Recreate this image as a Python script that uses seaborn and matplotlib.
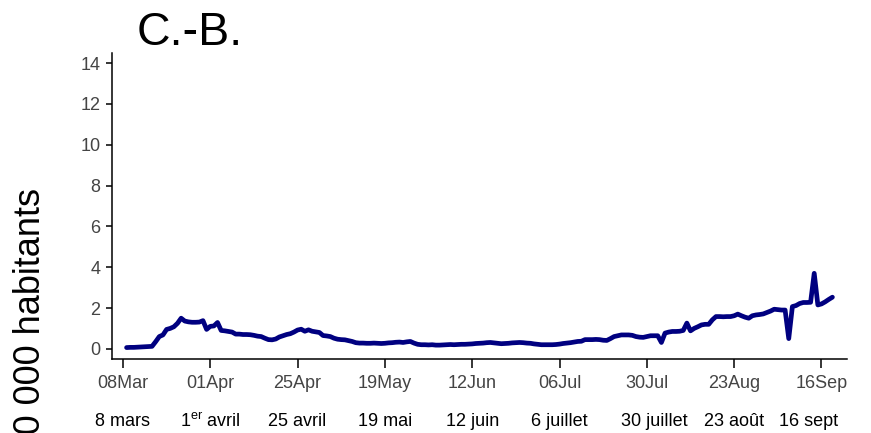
import pandas as pd
import seaborn as sns
import matplotlib.pyplot as plt
import matplotlib.dates as mdates
from matplotlib.transforms import blended_transform_factory, ScaledTranslation

# Data: daily rate per 100 000, from 9 March
start_date = "2020-03-09"
rate = [
    0.06, 0.07, 0.07, 0.08, 0.09, 0.10, 0.11, 0.12, 0.35, 0.60,
    0.68, 0.95, 1.00, 1.08, 1.25, 1.50, 1.36, 1.32, 1.30, 1.30,
    1.31, 1.38, 0.95, 1.10, 1.12, 1.29, 0.90, 0.88, 0.85, 0.82,
    0.72, 0.72, 0.70, 0.70, 0.69, 0.66, 0.62, 0.60, 0.52, 0.45,
    0.44, 0.48, 0.58, 0.64, 0.70, 0.74, 0.82, 0.92, 0.96, 0.86,
    0.93, 0.86, 0.83, 0.80, 0.65, 0.63, 0.60, 0.52, 0.47, 0.45,
    0.44, 0.40, 0.36, 0.30, 0.28, 0.28, 0.27, 0.27, 0.28, 0.27,
    0.26, 0.27, 0.29, 0.30, 0.32, 0.33, 0.31, 0.34, 0.36, 0.28,
    0.22, 0.20, 0.20, 0.19, 0.20, 0.18, 0.18, 0.19, 0.20, 0.21,
    0.20, 0.21, 0.22, 0.22, 0.23, 0.24, 0.26, 0.27, 0.28, 0.30,
    0.31, 0.29, 0.27, 0.25, 0.26, 0.27, 0.29, 0.30, 0.31, 0.30,
    0.28, 0.27, 0.24, 0.22, 0.20, 0.20, 0.20, 0.20, 0.21, 0.23,
    0.26, 0.28, 0.30, 0.33, 0.36, 0.37, 0.45, 0.45, 0.45, 0.46,
    0.45, 0.42, 0.41, 0.50, 0.60, 0.64, 0.68, 0.68, 0.68, 0.66,
    0.60, 0.57, 0.56, 0.60, 0.64, 0.64, 0.64, 0.31, 0.77, 0.82,
    0.85, 0.85, 0.86, 0.90, 1.26, 0.88, 1.00, 1.08, 1.17, 1.20,
    1.20, 1.42, 1.58, 1.58, 1.57, 1.58, 1.58, 1.62, 1.70, 1.62,
    1.55, 1.50, 1.62, 1.66, 1.68, 1.71, 1.78, 1.85, 1.94, 1.92,
    1.90, 1.90, 0.50, 2.07, 2.12, 2.22, 2.27, 2.27, 2.28, 3.70,
    2.15, 2.20, 2.30, 2.42, 2.53,
]

tick_dates = ["2020-03-08", "2020-04-01", "2020-04-25", "2020-05-19", "2020-06-12",
              "2020-07-06", "2020-07-30", "2020-08-23", "2020-09-16"]
fr_labels = ["8 mars", "1$^{\\mathrm{er}}$ avril", "25 avril", "19 mai", "12 juin",
             "6 juillet", "30 juillet", "23 août", "16 sept"]

df = pd.DataFrame({"date": pd.date_range(start_date, periods=len(rate), freq="D"),
                   "rate": rate})

sns.set_style("ticks")
plt.rcParams["font.family"] = ["Liberation Sans", "DejaVu Sans"]
plt.rcParams["mathtext.fontset"] = "custom"
plt.rcParams["mathtext.rm"] = "Liberation Sans"

fig = plt.figure(figsize=(8.71, 4.33), dpi=100)
ax = fig.add_axes([0.1286, 0.1709, 0.8438, 0.7067])

sns.lineplot(data=df, x="date", y="rate", color="navy", linewidth=3.4, ax=ax)

ax.set_ylim(-0.5, 14.5)
ax.set_yticks(range(0, 15, 2))
ax.set_xlim(pd.Timestamp("2020-03-05"), pd.Timestamp("2020-09-23"))
ticks = pd.to_datetime(tick_dates)
ax.set_xticks(ticks)
ax.xaxis.set_major_formatter(mdates.DateFormatter("%d%b"))
ax.set_xlabel("")
ax.set_ylabel("")

sns.despine(ax=ax)
for s in ["left", "bottom"]:
    ax.spines[s].set_linewidth(1.1)
    ax.spines[s].set_color("black")
ax.tick_params(axis="x", length=6.5, width=1.1, color="black", pad=5,
               labelsize=13, labelcolor="#444444")
ax.tick_params(axis="y", length=4.3, width=1.1, color="black", pad=4,
               labelsize=13, labelcolor="#444444")

# French date labels under the axis (the crowded ones nudged as in the source)
trans = blended_transform_factory(ax.transData, fig.transFigure)
for i, (d, lab) in enumerate(zip(ticks, fr_labels)):
    t = trans
    if lab == "30 juillet":
        t = trans + ScaledTranslation(7 / 100, 0, fig.dpi_scale_trans)
    elif lab == "16 sept":
        t = trans + ScaledTranslation(-13 / 100, 0, fig.dpi_scale_trans)
    ax.text(d, 1 - 422 / 433, lab, transform=t, ha="center", va="center",
            fontsize=13, color="black")

fig.text(137 / 871, 1 - 45 / 433, "C.-B.", ha="left", va="baseline",
         fontsize=33.5, color="black")
fig.text(31 / 871, 1 - 188 / 433, "Cas par 100 000 habitants", rotation=90,
         ha="center", va="top", fontsize=26, color="black")

fig.savefig("out.png", dpi=100)
